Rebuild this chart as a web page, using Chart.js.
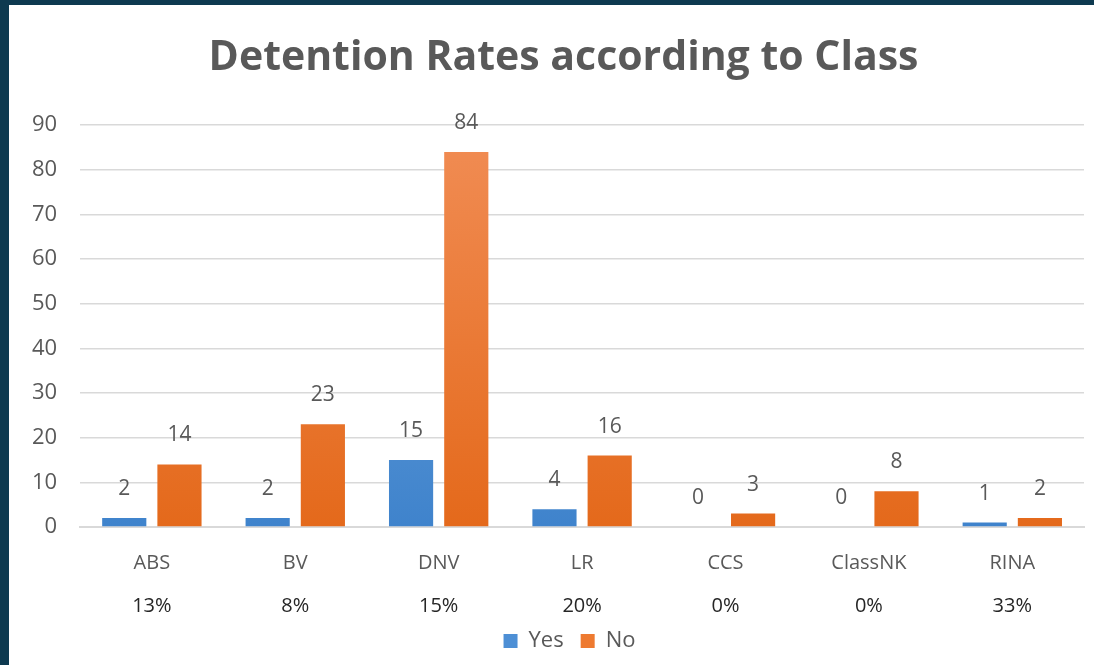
<!DOCTYPE html>
<html>
<head>
<meta charset="utf-8">
<script src="https://cdn.jsdelivr.net/npm/chart.js@4"></script>
<style>
    html, body { margin: 0; padding: 0; background: #0e3a50; }
    #panel {
        position: absolute;
        left: 9px;
        top: 5px;
        width: 1085px;
        height: 660px;
        background: #ffffff;
    }
</style>
</head>
<body>
<div id="panel"><canvas id="detentionChart"></canvas></div>
<script>
const classes = ["ABS", "BV", "DNV", "LR", "CCS", "ClassNK", "RINA"];
const yesValues = [2, 2, 15, 4, 0, 0, 1];
const noValues = [14, 23, 84, 16, 3, 8, 2];
const rateLabels = ["13%", "8%", "15%", "20%", "0%", "0%", "33%"];
const yTicks = [0, 10, 20, 30, 40, 50, 60, 70, 80, 90];

const FONT = "'Open Sans', 'Noto Sans', sans-serif";

function gradient(ctx, top, bottom) {
    const area = ctx.chart.chartArea;
    if (!area) return bottom;
    const g = ctx.chart.ctx.createLinearGradient(0, area.top, 0, area.bottom);
    g.addColorStop(0, top);
    g.addColorStop(1, bottom);
    return g;
}

// value labels above each bar
const barValues = {
    id: "barValues",
    afterDatasetsDraw(chart) {
        const c = chart.ctx;
        c.save();
        c.font = "21px " + FONT;
        c.fillStyle = "#595959";
        c.textAlign = "center";
        c.textBaseline = "middle";
        chart.data.datasets.forEach((ds, i) => {
            chart.getDatasetMeta(i).data.forEach((bar, j) => {
                c.fillText(ds.data[j], bar.x, bar.y - 29);
            });
        });
        c.restore();
    }
};

// title and legend sit a little right of the canvas centre in the original
const centreShift = {
    id: "centreShift",
    afterLayout(chart) {
        chart.titleBlock.left += 17;
        chart.titleBlock.right += 17;
        chart.legend.left += 23;
        chart.legend.right += 23;
    }
};

new Chart(document.getElementById("detentionChart"), {
    type: "bar",
    data: {
        labels: classes,
        datasets: [
            {
                label: "Yes",
                data: yesValues,
                backgroundColor: ctx => gradient(ctx, "#74a9de", "#3f83cc"),
                barPercentage: 0.8,
                categoryPercentage: 0.77
            },
            {
                label: "No",
                data: noValues,
                backgroundColor: ctx => gradient(ctx, "#f18d55", "#e4691b"),
                barPercentage: 0.8,
                categoryPercentage: 0.77
            }
        ]
    },
    options: {
        responsive: true,
        maintainAspectRatio: false,
        animation: false,
        layout: { padding: { left: 0, right: 10, top: 10, bottom: 3 } },
        plugins: {
            title: {
                display: true,
                text: "Detention Rates according to Class",
                color: "#595959",
                font: { family: FONT, size: 41, weight: "bold" },
                padding: { top: 19, bottom: 42 }
            },
            legend: {
                position: "bottom",
                labels: {
                    color: "#595959",
                    font: { family: FONT, size: 22 },
                    boxWidth: 14,
                    boxHeight: 14,
                    padding: 17,
                    generateLabels: chart => chart.data.datasets.map((ds, i) => ({
                        text: ds.label,
                        fillStyle: i === 0 ? "#4d8fd5" : "#ee7a30",
                        strokeStyle: "transparent",
                        lineWidth: 0,
                        fontColor: "#595959",
                        datasetIndex: i
                    }))
                }
            },
            tooltip: { enabled: false }
        },
        scales: {
            x: {
                grid: { display: false },
                border: { display: true, color: "#d9d9d9", width: 2 },
                ticks: {
                    color: "#595959",
                    font: { family: FONT, size: 20 },
                    padding: 16
                }
            },
            rates: {
                type: "category",
                position: "bottom",
                labels: rateLabels,
                offset: true,
                grid: { display: false },
                border: { display: false },
                ticks: {
                    color: "#262626",
                    font: { family: FONT, size: 20 },
                    padding: -5
                }
            },
            y: {
                min: 0,
                max: 90,
                afterBuildTicks: axis => {
                    axis.ticks = yTicks.map(v => ({ value: v }));
                },
                grid: { color: "#d9d9d9", lineWidth: 1.5, drawTicks: false },
                border: { display: false },
                ticks: {
                    color: "#595959",
                    font: { family: FONT, size: 22 },
                    padding: 23
                }
            }
        }
    },
    plugins: [barValues, centreShift]
});
</script>
</body>
</html>
